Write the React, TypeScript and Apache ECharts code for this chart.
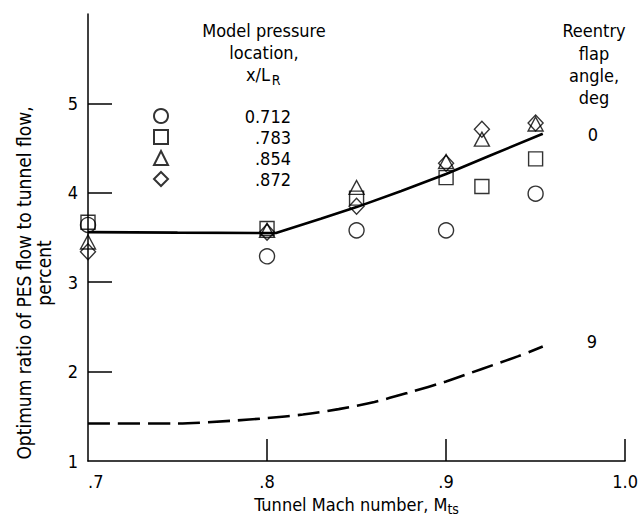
import React, { useEffect, useRef } from "react";
import * as echarts from "echarts";

const FONT = "'Liberation Sans Narrow', 'DejaVu Sans Condensed', 'Roboto Condensed', 'Liberation Sans', sans-serif";
const FS = 18;

// Tunnel Mach number positions of the measured points
const machCircle = [0.7, 0.8, 0.85, 0.9, 0.95];
const ratioCircle = [3.64, 3.29, 3.58, 3.58, 3.99]; // x/L_R = 0.712
const machSquare = [0.7, 0.8, 0.85, 0.9, 0.92, 0.95];
const ratioSquare = [3.67, 3.6, 3.94, 4.17, 4.07, 4.38]; // .783
const machTriangle = [0.7, 0.8, 0.85, 0.9, 0.92, 0.95];
const ratioTriangle = [3.45, 3.58, 4.06, 4.35, 4.6, 4.77]; // .854
const machDiamond = [0.7, 0.8, 0.85, 0.9, 0.92, 0.95];
const ratioDiamond = [3.34, 3.56, 3.85, 4.33, 4.71, 4.78]; // .872

// Faired curves, reentry flap angle 0 deg and 9 deg
const machFlap0 = [0.7, 0.75, 0.805, 0.83, 0.85, 0.875, 0.9, 0.925, 0.954];
const ratioFlap0 = [3.56, 3.555, 3.55, 3.71, 3.84, 4.02, 4.21, 4.42, 4.66];
const machFlap9 = [0.7, 0.75, 0.78, 0.8, 0.82, 0.84, 0.86, 0.88, 0.9, 0.92, 0.94, 0.954];
const ratioFlap9 = [1.42, 1.42, 1.45, 1.48, 1.52, 1.58, 1.66, 1.77, 1.89, 2.03, 2.17, 2.28];

const xTickValues = [0.7, 0.8, 0.9, 1.0];
const xTickLabels = [".7", ".8", ".9", "1.0"];
const yTickValues = [1, 2, 3, 4, 5];
const yTickLabels = ["1", "2", "3", "4", "5"];

const locationNames = ["0.712", ".783", ".854", ".872"];
const flapNames = ["0", "9"];

const zip = (xs: number[], ys: number[]) => xs.map((x, i) => [x, ys[i]]);

export default function App() {
  const ref = useRef<HTMLDivElement>(null);
  useEffect(() => {
    if (!ref.current) return;
    const chart = echarts.init(ref.current, null, { renderer: "svg" });
    const mk = (name: string, symbol: string, xs: number[], ys: number[], size: any) => ({
      name,
      type: "scatter",
      symbol,
      symbolSize: size,
      data: zip(xs, ys),
      itemStyle: { color: "rgba(255,255,255,0)", borderColor: "#000", borderWidth: 1.4 },
      z: 3,
    });
    const txt = (text: string, x: number, y: number, extra: any = {}, size = FS) => ({
      type: "text",
      x,
      y,
      rotation: extra.rotation ?? 0,
      style: { text, font: `${size}px ${FONT}`, fill: "#000", align: "center", verticalAlign: "middle" },
    });
    chart.setOption({
      animation: false,
      backgroundColor: "#fff",
      grid: { left: 88, right: 15, top: 14, bottom: 51, containLabel: false },
      xAxis: {
        type: "value",
        min: 0.7,
        max: 1.0,
        name: "Tunnel Mach number, M{sub|ts}",
        nameLocation: "middle",
        nameGap: 32,
        nameTextStyle: {
          fontFamily: FONT,
          fontSize: FS,
          color: "#000",
          rich: { sub: { fontFamily: FONT, fontSize: 14, color: "#000", padding: [9, 0, 0, 0] } },
        },
        axisLine: { show: true, onZero: false, lineStyle: { color: "#000", width: 1.5 } },
        axisTick: { show: true, inside: true, length: 22, customValues: [0.8, 0.9, 1.0], lineStyle: { color: "#000", width: 1.5 } },
        axisLabel: {
          customValues: xTickValues,
          formatter: (v: number) => xTickLabels[xTickValues.findIndex((t) => Math.abs(t - v) < 1e-6)] ?? "",
          fontFamily: FONT,
          fontSize: FS,
          color: "#000",
          margin: 11,
          alignMinLabel: "left",
        },
        splitLine: { show: false },
      },
      yAxis: {
        type: "value",
        min: 1,
        max: 6,
        axisLine: { show: true, onZero: false, lineStyle: { color: "#000", width: 1.5 } },
        axisTick: { show: true, inside: true, length: 24, customValues: [2, 3, 4, 5], lineStyle: { color: "#000", width: 1.5 } },
        axisLabel: {
          customValues: yTickValues,
          formatter: (v: number) => yTickLabels[yTickValues.indexOf(Math.round(v))] ?? "",
          fontFamily: FONT,
          fontSize: FS,
          color: "#000",
          margin: 10,
        },
        splitLine: { show: false },
      },
      legend: {
        orient: "vertical",
        left: 153,
        top: 107,
        padding: 0,
        itemWidth: 14,
        itemHeight: 14,
        itemGap: 3,
        data: locationNames,
        formatter: (n: string) => `{v|${n}}`,
        textStyle: {
          color: "#000",
          fontFamily: FONT,
          fontSize: FS,
          rich: { v: { width: 118, align: "right", lineHeight: 14, fontFamily: FONT, fontSize: FS, color: "#000" } },
        },
      },
      series: [
        {
          name: flapNames[0],
          type: "line",
          data: zip(machFlap0, ratioFlap0),
          showSymbol: false,
          smooth: false,
          lineStyle: { color: "#000", width: 2.6 },
          z: 2,
        },
        {
          name: flapNames[1],
          type: "line",
          data: zip(machFlap9, ratioFlap9),
          showSymbol: false,
          smooth: 0.3,
          lineStyle: { color: "#000", width: 2.6, type: [22, 8] },
          z: 2,
        },
        mk(locationNames[0], "circle", machCircle, ratioCircle, 15),
        mk(locationNames[1], "rect", machSquare, ratioSquare, 14),
        mk(locationNames[2], "triangle", machTriangle, ratioTriangle, [15, 14]),
        mk(locationNames[3], "diamond", machDiamond, ratioDiamond, [15, 16]),
      ],
      graphic: [
        txt("Optimum ratio of PES flow to tunnel flow,", 24, 283, { rotation: Math.PI / 2 }, 19),
        txt("percent", 44, 273, { rotation: Math.PI / 2 }, 19),
        txt("Model pressure", 264, 30),
        txt("location,", 264, 52),
        txt("x/L", 258, 74),
        txt("R", 276, 80, {}, 14),
        txt("Reentry", 594, 30),
        txt("flap", 594, 53),
        txt("angle,", 594, 75),
        txt("deg", 594, 97),
        txt(flapNames[0], 593, 134),
        txt(flapNames[1], 592, 341),
      ],
    });
    return () => chart.dispose();
  }, []);
  return <div ref={ref} style={{ position: "fixed", left: 0, top: 0, width: 641, height: 521 }} />;
}
